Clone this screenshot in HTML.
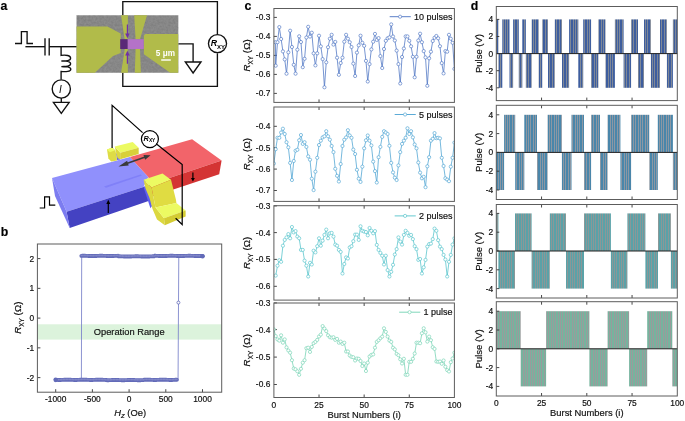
<!DOCTYPE html>
<html><head><meta charset="utf-8"><title>figure</title><style>
html,body{margin:0;padding:0;background:#fff;width:685px;height:421px;overflow:hidden}
svg{display:block;will-change:transform}
text{font-family:"Liberation Sans", sans-serif}
.k{stroke:#111;stroke-width:0.18px}
</style></head><body>
<svg width="685" height="421" viewBox="0 0 685 421">
<defs>
<pattern id="st0" patternUnits="userSpaceOnUse" x="0" y="0" width="7" height="10"><rect x="0" width="1" height="10" fill="#3e5e9e"/><rect x="1" width="1" height="10" fill="#7f8898"/><rect x="2" width="1" height="10" fill="#3e5e9e"/><rect x="3" width="1" height="10" fill="#7f8898"/><rect x="4" width="2" height="10" fill="#3e5e9e"/><rect x="6" width="1" height="10" fill="#7f8898"/></pattern>
<pattern id="st1" patternUnits="userSpaceOnUse" x="2" y="0" width="7" height="10"><rect x="0" width="1" height="10" fill="#4a86aa"/><rect x="1" width="1" height="10" fill="#8c98a4"/><rect x="2" width="1" height="10" fill="#4a86aa"/><rect x="3" width="1" height="10" fill="#8c98a4"/><rect x="4" width="2" height="10" fill="#4a86aa"/><rect x="6" width="1" height="10" fill="#8c98a4"/></pattern>
<pattern id="st2" patternUnits="userSpaceOnUse" x="4" y="0" width="7" height="10"><rect x="0" width="1" height="10" fill="#5aa2a8"/><rect x="1" width="1" height="10" fill="#8a9898"/><rect x="2" width="1" height="10" fill="#5aa2a8"/><rect x="3" width="1" height="10" fill="#8a9898"/><rect x="4" width="2" height="10" fill="#5aa2a8"/><rect x="6" width="1" height="10" fill="#8a9898"/></pattern>
<pattern id="st3" patternUnits="userSpaceOnUse" x="6" y="0" width="7" height="10"><rect x="0" width="1" height="10" fill="#76b49e"/><rect x="1" width="1" height="10" fill="#989c9c"/><rect x="2" width="1" height="10" fill="#76b49e"/><rect x="3" width="1" height="10" fill="#989c9c"/><rect x="4" width="2" height="10" fill="#76b49e"/><rect x="6" width="1" height="10" fill="#989c9c"/></pattern>
<filter id="noise" x="0" y="0" width="1" height="1" color-interpolation-filters="sRGB"><feTurbulence type="fractalNoise" baseFrequency="0.45" numOctaves="2" seed="7"/><feColorMatrix type="matrix" values="0.5 0 0 0 0.28  0.5 0 0 0 0.28  0.5 0 0 0 0.28  0 0 0 0 1"/></filter>
<clipPath id="cc0"><rect x="273.9" y="8.5" width="180.5" height="93.9"/></clipPath>
<clipPath id="cc1"><rect x="273.9" y="107" width="180.5" height="94.4"/></clipPath>
<clipPath id="cc2"><rect x="273.9" y="205.7" width="180.5" height="94.4"/></clipPath>
<clipPath id="cc3"><rect x="273.9" y="303" width="180.5" height="94.5"/></clipPath>
</defs>
<text x="0.6" y="9.8" font-size="12.3" fill="#000" font-weight="bold" class="k">a</text>
<text x="0.8" y="236.1" font-size="12.3" fill="#000" font-weight="bold" class="k">b</text>
<text x="244.4" y="9.9" font-size="12.3" fill="#000" font-weight="bold" class="k">c</text>
<text x="470.8" y="9.7" font-size="12.3" fill="#000" font-weight="bold" class="k">d</text>
<line x1="273.9" y1="17.4" x2="276.9" y2="17.4" stroke="#333333" stroke-width="0.9"/>
<text x="270.3" y="20.35" font-size="8.4" fill="#111111" text-anchor="end" class="k">-0.3</text>
<line x1="273.9" y1="36.4" x2="276.9" y2="36.4" stroke="#333333" stroke-width="0.9"/>
<text x="270.3" y="39.35" font-size="8.4" fill="#111111" text-anchor="end" class="k">-0.4</text>
<line x1="273.9" y1="55.4" x2="276.9" y2="55.4" stroke="#333333" stroke-width="0.9"/>
<text x="270.3" y="58.35" font-size="8.4" fill="#111111" text-anchor="end" class="k">-0.5</text>
<line x1="273.9" y1="74.4" x2="276.9" y2="74.4" stroke="#333333" stroke-width="0.9"/>
<text x="270.3" y="77.35" font-size="8.4" fill="#111111" text-anchor="end" class="k">-0.6</text>
<line x1="273.9" y1="93.4" x2="276.9" y2="93.4" stroke="#333333" stroke-width="0.9"/>
<text x="270.3" y="96.35" font-size="8.4" fill="#111111" text-anchor="end" class="k">-0.7</text>
<line x1="319.02" y1="102.4" x2="319.02" y2="99.4" stroke="#333333" stroke-width="0.9"/>
<line x1="364.15" y1="102.4" x2="364.15" y2="99.4" stroke="#333333" stroke-width="0.9"/>
<line x1="409.27" y1="102.4" x2="409.27" y2="99.4" stroke="#333333" stroke-width="0.9"/>
<g clip-path="url(#cc0)">
<polyline fill="none" stroke="#4a72c2" stroke-width="0.75" stroke-linejoin="round" points="275.4,42.2 275.7,65.7 277.51,42.2 279.31,27.1 281.12,39 282.92,51.4 284.73,59.4 286.53,73.7 288.34,52.3 290.14,30.7 291.95,47 293.75,64.8 295.56,73.7 297.36,49.7 299.17,36.3 300.97,42 302.78,67.2 304.58,58.8 306.39,37.5 308.19,26.8 310,36.6 311.8,32.7 313.61,53.3 315.41,65.4 317.22,53.3 319.02,35.7 320.83,46.4 322.63,59.1 324.44,87.3 326.25,62.3 328.05,47.2 329.85,38.7 331.66,34.8 333.46,44.6 335.27,41.9 337.07,57.7 338.88,74.8 340.68,63 342.49,57.7 344.29,41.7 346.1,34.8 347.9,38.7 349.71,42.2 351.51,47 353.32,63.6 355.12,76 356.93,52.6 358.73,45.3 360.54,35.7 362.34,42.8 364.15,45.8 365.95,60.9 367.76,81.5 369.56,64.1 371.37,49.4 373.17,41.7 374.98,33.9 376.78,39.9 378.59,38.1 380.39,56.1 382.2,68 384,49 385.81,40.8 387.62,38.3 389.42,37.4 391.22,24.4 393.03,36.5 394.83,40.5 396.64,50.6 398.44,64.1 400.25,83.5 402.05,57 403.86,48.5 405.66,36.4 407.47,36.4 409.27,40.8 411.08,46.3 412.88,56.8 414.69,77.3 416.5,56.8 418.3,40.5 420.11,33.7 421.91,42.2 423.71,51.1 425.52,57.4 427.32,85.8 429.13,58.3 430.93,51.7 432.74,41 434.54,37.8 436.35,36 438.15,38.3 439.96,46.2 441.76,63.1 443.57,73.4 445.38,51.1 447.18,51.7 448.99,34.8 450.79,38.7 452.59,42.8 454.4,68.9"/>
<g fill="#fff" stroke="#4a72c2" stroke-width="0.65">
<circle cx="275.4" cy="42.2" r="1.6"/>
<circle cx="275.7" cy="65.7" r="1.6"/>
<circle cx="277.51" cy="42.2" r="1.6"/>
<circle cx="279.31" cy="27.1" r="1.6"/>
<circle cx="281.12" cy="39" r="1.6"/>
<circle cx="282.92" cy="51.4" r="1.6"/>
<circle cx="284.73" cy="59.4" r="1.6"/>
<circle cx="286.53" cy="73.7" r="1.6"/>
<circle cx="288.34" cy="52.3" r="1.6"/>
<circle cx="290.14" cy="30.7" r="1.6"/>
<circle cx="291.95" cy="47" r="1.6"/>
<circle cx="293.75" cy="64.8" r="1.6"/>
<circle cx="295.56" cy="73.7" r="1.6"/>
<circle cx="297.36" cy="49.7" r="1.6"/>
<circle cx="299.17" cy="36.3" r="1.6"/>
<circle cx="300.97" cy="42" r="1.6"/>
<circle cx="302.78" cy="67.2" r="1.6"/>
<circle cx="304.58" cy="58.8" r="1.6"/>
<circle cx="306.39" cy="37.5" r="1.6"/>
<circle cx="308.19" cy="26.8" r="1.6"/>
<circle cx="310" cy="36.6" r="1.6"/>
<circle cx="311.8" cy="32.7" r="1.6"/>
<circle cx="313.61" cy="53.3" r="1.6"/>
<circle cx="315.41" cy="65.4" r="1.6"/>
<circle cx="317.22" cy="53.3" r="1.6"/>
<circle cx="319.02" cy="35.7" r="1.6"/>
<circle cx="320.83" cy="46.4" r="1.6"/>
<circle cx="322.63" cy="59.1" r="1.6"/>
<circle cx="324.44" cy="87.3" r="1.6"/>
<circle cx="326.25" cy="62.3" r="1.6"/>
<circle cx="328.05" cy="47.2" r="1.6"/>
<circle cx="329.85" cy="38.7" r="1.6"/>
<circle cx="331.66" cy="34.8" r="1.6"/>
<circle cx="333.46" cy="44.6" r="1.6"/>
<circle cx="335.27" cy="41.9" r="1.6"/>
<circle cx="337.07" cy="57.7" r="1.6"/>
<circle cx="338.88" cy="74.8" r="1.6"/>
<circle cx="340.68" cy="63" r="1.6"/>
<circle cx="342.49" cy="57.7" r="1.6"/>
<circle cx="344.29" cy="41.7" r="1.6"/>
<circle cx="346.1" cy="34.8" r="1.6"/>
<circle cx="347.9" cy="38.7" r="1.6"/>
<circle cx="349.71" cy="42.2" r="1.6"/>
<circle cx="351.51" cy="47" r="1.6"/>
<circle cx="353.32" cy="63.6" r="1.6"/>
<circle cx="355.12" cy="76" r="1.6"/>
<circle cx="356.93" cy="52.6" r="1.6"/>
<circle cx="358.73" cy="45.3" r="1.6"/>
<circle cx="360.54" cy="35.7" r="1.6"/>
<circle cx="362.34" cy="42.8" r="1.6"/>
<circle cx="364.15" cy="45.8" r="1.6"/>
<circle cx="365.95" cy="60.9" r="1.6"/>
<circle cx="367.76" cy="81.5" r="1.6"/>
<circle cx="369.56" cy="64.1" r="1.6"/>
<circle cx="371.37" cy="49.4" r="1.6"/>
<circle cx="373.17" cy="41.7" r="1.6"/>
<circle cx="374.98" cy="33.9" r="1.6"/>
<circle cx="376.78" cy="39.9" r="1.6"/>
<circle cx="378.59" cy="38.1" r="1.6"/>
<circle cx="380.39" cy="56.1" r="1.6"/>
<circle cx="382.2" cy="68" r="1.6"/>
<circle cx="384" cy="49" r="1.6"/>
<circle cx="385.81" cy="40.8" r="1.6"/>
<circle cx="387.62" cy="38.3" r="1.6"/>
<circle cx="389.42" cy="37.4" r="1.6"/>
<circle cx="391.22" cy="24.4" r="1.6"/>
<circle cx="393.03" cy="36.5" r="1.6"/>
<circle cx="394.83" cy="40.5" r="1.6"/>
<circle cx="396.64" cy="50.6" r="1.6"/>
<circle cx="398.44" cy="64.1" r="1.6"/>
<circle cx="400.25" cy="83.5" r="1.6"/>
<circle cx="402.05" cy="57" r="1.6"/>
<circle cx="403.86" cy="48.5" r="1.6"/>
<circle cx="405.66" cy="36.4" r="1.6"/>
<circle cx="407.47" cy="36.4" r="1.6"/>
<circle cx="409.27" cy="40.8" r="1.6"/>
<circle cx="411.08" cy="46.3" r="1.6"/>
<circle cx="412.88" cy="56.8" r="1.6"/>
<circle cx="414.69" cy="77.3" r="1.6"/>
<circle cx="416.5" cy="56.8" r="1.6"/>
<circle cx="418.3" cy="40.5" r="1.6"/>
<circle cx="420.11" cy="33.7" r="1.6"/>
<circle cx="421.91" cy="42.2" r="1.6"/>
<circle cx="423.71" cy="51.1" r="1.6"/>
<circle cx="425.52" cy="57.4" r="1.6"/>
<circle cx="427.32" cy="85.8" r="1.6"/>
<circle cx="429.13" cy="58.3" r="1.6"/>
<circle cx="430.93" cy="51.7" r="1.6"/>
<circle cx="432.74" cy="41" r="1.6"/>
<circle cx="434.54" cy="37.8" r="1.6"/>
<circle cx="436.35" cy="36" r="1.6"/>
<circle cx="438.15" cy="38.3" r="1.6"/>
<circle cx="439.96" cy="46.2" r="1.6"/>
<circle cx="441.76" cy="63.1" r="1.6"/>
<circle cx="443.57" cy="73.4" r="1.6"/>
<circle cx="445.38" cy="51.1" r="1.6"/>
<circle cx="447.18" cy="51.7" r="1.6"/>
<circle cx="448.99" cy="34.8" r="1.6"/>
<circle cx="450.79" cy="38.7" r="1.6"/>
<circle cx="452.59" cy="42.8" r="1.6"/>
<circle cx="454.4" cy="68.9" r="1.6"/>
</g></g>
<line x1="389.68" y1="16.7" x2="410.78" y2="16.7" stroke="#4a72c2" stroke-width="0.9"/>
<circle cx="400.08" cy="16.7" r="1.6" fill="#fff" stroke="#4a72c2" stroke-width="0.65"/>
<text x="452.5" y="19.9" font-size="9" fill="#111111" text-anchor="end" class="k">10 pulses</text>
<rect x="273.9" y="8.5" width="180.5" height="93.9" fill="none" stroke="#5c5c5c" stroke-width="1.0"/>
<text transform="translate(250.2 55.45) rotate(-90)" font-size="9.8" fill="#111111" class="k" text-anchor="middle"><tspan font-style="italic">R</tspan><tspan font-size="6.5" dy="2.5">XY</tspan><tspan dy="-2.5"> (Ω)</tspan></text>
<line x1="273.9" y1="126.3" x2="276.9" y2="126.3" stroke="#333333" stroke-width="0.9"/>
<text x="270.3" y="129.25" font-size="8.4" fill="#111111" text-anchor="end" class="k">-0.4</text>
<line x1="273.9" y1="147.7" x2="276.9" y2="147.7" stroke="#333333" stroke-width="0.9"/>
<text x="270.3" y="150.65" font-size="8.4" fill="#111111" text-anchor="end" class="k">-0.5</text>
<line x1="273.9" y1="169.1" x2="276.9" y2="169.1" stroke="#333333" stroke-width="0.9"/>
<text x="270.3" y="172.05" font-size="8.4" fill="#111111" text-anchor="end" class="k">-0.6</text>
<line x1="273.9" y1="190.5" x2="276.9" y2="190.5" stroke="#333333" stroke-width="0.9"/>
<text x="270.3" y="193.45" font-size="8.4" fill="#111111" text-anchor="end" class="k">-0.7</text>
<line x1="319.02" y1="201.4" x2="319.02" y2="198.4" stroke="#333333" stroke-width="0.9"/>
<line x1="319.02" y1="107" x2="319.02" y2="110" stroke="#333333" stroke-width="0.9"/>
<line x1="364.15" y1="201.4" x2="364.15" y2="198.4" stroke="#333333" stroke-width="0.9"/>
<line x1="364.15" y1="107" x2="364.15" y2="110" stroke="#333333" stroke-width="0.9"/>
<line x1="409.27" y1="201.4" x2="409.27" y2="198.4" stroke="#333333" stroke-width="0.9"/>
<line x1="409.27" y1="107" x2="409.27" y2="110" stroke="#333333" stroke-width="0.9"/>
<g clip-path="url(#cc1)">
<polyline fill="none" stroke="#4aa2d2" stroke-width="0.75" stroke-linejoin="round" points="273.9,163.5 275.7,149.2 277.51,137.8 279.31,137.8 281.12,132.5 282.92,128.7 284.73,134 286.53,142.2 288.34,147.3 290.14,162.9 291.95,180 293.75,161 295.56,150.7 297.36,149.8 299.17,140.3 300.97,135 302.78,143.9 304.58,142.2 306.39,146.9 308.19,156.4 310,159.7 311.8,178.7 313.61,190.1 315.41,171.7 317.22,157.8 319.02,145 320.83,140.7 322.63,137.4 324.44,136.3 326.25,131.2 328.05,136.3 329.85,139.7 331.66,146 333.46,152.1 335.27,168.8 337.07,175.8 338.88,181.5 340.68,164 342.49,146 344.29,139.7 346.1,137.4 347.9,130.2 349.71,135.5 351.51,137.8 353.32,149.6 355.12,154 356.93,169.8 358.73,178.7 360.54,181.9 362.34,166.7 364.15,148.3 365.95,140.3 367.76,135.5 369.56,140.7 371.37,145.4 373.17,161.6 374.98,171.1 376.78,182.5 378.59,157.2 380.39,146.9 382.2,136.9 384,131.2 385.81,132.5 387.62,134 389.42,145.8 391.22,162.9 393.03,172.4 394.83,177.7 396.64,180 398.44,165.4 400.25,152.1 402.05,143.9 403.86,140.7 405.66,137.8 407.47,128.3 409.27,134 411.08,131.2 412.88,137.4 414.69,144.5 416.5,148.3 418.3,162.5 420.11,172.6 421.91,178.3 423.71,176.8 425.52,187.2 427.32,166.3 429.13,157.2 430.93,140.7 432.74,138.8 434.54,133.1 436.35,138.2 438.15,137.8 439.96,138.4 441.76,157.8 443.57,166 445.38,178.3 447.18,179.6 448.99,181.2 450.79,166.7 452.59,157.8 454.4,142.6"/>
<g fill="#fff" stroke="#4aa2d2" stroke-width="0.65">
<circle cx="273.9" cy="163.5" r="1.6"/>
<circle cx="275.7" cy="149.2" r="1.6"/>
<circle cx="277.51" cy="137.8" r="1.6"/>
<circle cx="279.31" cy="137.8" r="1.6"/>
<circle cx="281.12" cy="132.5" r="1.6"/>
<circle cx="282.92" cy="128.7" r="1.6"/>
<circle cx="284.73" cy="134" r="1.6"/>
<circle cx="286.53" cy="142.2" r="1.6"/>
<circle cx="288.34" cy="147.3" r="1.6"/>
<circle cx="290.14" cy="162.9" r="1.6"/>
<circle cx="291.95" cy="180" r="1.6"/>
<circle cx="293.75" cy="161" r="1.6"/>
<circle cx="295.56" cy="150.7" r="1.6"/>
<circle cx="297.36" cy="149.8" r="1.6"/>
<circle cx="299.17" cy="140.3" r="1.6"/>
<circle cx="300.97" cy="135" r="1.6"/>
<circle cx="302.78" cy="143.9" r="1.6"/>
<circle cx="304.58" cy="142.2" r="1.6"/>
<circle cx="306.39" cy="146.9" r="1.6"/>
<circle cx="308.19" cy="156.4" r="1.6"/>
<circle cx="310" cy="159.7" r="1.6"/>
<circle cx="311.8" cy="178.7" r="1.6"/>
<circle cx="313.61" cy="190.1" r="1.6"/>
<circle cx="315.41" cy="171.7" r="1.6"/>
<circle cx="317.22" cy="157.8" r="1.6"/>
<circle cx="319.02" cy="145" r="1.6"/>
<circle cx="320.83" cy="140.7" r="1.6"/>
<circle cx="322.63" cy="137.4" r="1.6"/>
<circle cx="324.44" cy="136.3" r="1.6"/>
<circle cx="326.25" cy="131.2" r="1.6"/>
<circle cx="328.05" cy="136.3" r="1.6"/>
<circle cx="329.85" cy="139.7" r="1.6"/>
<circle cx="331.66" cy="146" r="1.6"/>
<circle cx="333.46" cy="152.1" r="1.6"/>
<circle cx="335.27" cy="168.8" r="1.6"/>
<circle cx="337.07" cy="175.8" r="1.6"/>
<circle cx="338.88" cy="181.5" r="1.6"/>
<circle cx="340.68" cy="164" r="1.6"/>
<circle cx="342.49" cy="146" r="1.6"/>
<circle cx="344.29" cy="139.7" r="1.6"/>
<circle cx="346.1" cy="137.4" r="1.6"/>
<circle cx="347.9" cy="130.2" r="1.6"/>
<circle cx="349.71" cy="135.5" r="1.6"/>
<circle cx="351.51" cy="137.8" r="1.6"/>
<circle cx="353.32" cy="149.6" r="1.6"/>
<circle cx="355.12" cy="154" r="1.6"/>
<circle cx="356.93" cy="169.8" r="1.6"/>
<circle cx="358.73" cy="178.7" r="1.6"/>
<circle cx="360.54" cy="181.9" r="1.6"/>
<circle cx="362.34" cy="166.7" r="1.6"/>
<circle cx="364.15" cy="148.3" r="1.6"/>
<circle cx="365.95" cy="140.3" r="1.6"/>
<circle cx="367.76" cy="135.5" r="1.6"/>
<circle cx="369.56" cy="140.7" r="1.6"/>
<circle cx="371.37" cy="145.4" r="1.6"/>
<circle cx="373.17" cy="161.6" r="1.6"/>
<circle cx="374.98" cy="171.1" r="1.6"/>
<circle cx="376.78" cy="182.5" r="1.6"/>
<circle cx="378.59" cy="157.2" r="1.6"/>
<circle cx="380.39" cy="146.9" r="1.6"/>
<circle cx="382.2" cy="136.9" r="1.6"/>
<circle cx="384" cy="131.2" r="1.6"/>
<circle cx="385.81" cy="132.5" r="1.6"/>
<circle cx="387.62" cy="134" r="1.6"/>
<circle cx="389.42" cy="145.8" r="1.6"/>
<circle cx="391.22" cy="162.9" r="1.6"/>
<circle cx="393.03" cy="172.4" r="1.6"/>
<circle cx="394.83" cy="177.7" r="1.6"/>
<circle cx="396.64" cy="180" r="1.6"/>
<circle cx="398.44" cy="165.4" r="1.6"/>
<circle cx="400.25" cy="152.1" r="1.6"/>
<circle cx="402.05" cy="143.9" r="1.6"/>
<circle cx="403.86" cy="140.7" r="1.6"/>
<circle cx="405.66" cy="137.8" r="1.6"/>
<circle cx="407.47" cy="128.3" r="1.6"/>
<circle cx="409.27" cy="134" r="1.6"/>
<circle cx="411.08" cy="131.2" r="1.6"/>
<circle cx="412.88" cy="137.4" r="1.6"/>
<circle cx="414.69" cy="144.5" r="1.6"/>
<circle cx="416.5" cy="148.3" r="1.6"/>
<circle cx="418.3" cy="162.5" r="1.6"/>
<circle cx="420.11" cy="172.6" r="1.6"/>
<circle cx="421.91" cy="178.3" r="1.6"/>
<circle cx="423.71" cy="176.8" r="1.6"/>
<circle cx="425.52" cy="187.2" r="1.6"/>
<circle cx="427.32" cy="166.3" r="1.6"/>
<circle cx="429.13" cy="157.2" r="1.6"/>
<circle cx="430.93" cy="140.7" r="1.6"/>
<circle cx="432.74" cy="138.8" r="1.6"/>
<circle cx="434.54" cy="133.1" r="1.6"/>
<circle cx="436.35" cy="138.2" r="1.6"/>
<circle cx="438.15" cy="137.8" r="1.6"/>
<circle cx="439.96" cy="138.4" r="1.6"/>
<circle cx="441.76" cy="157.8" r="1.6"/>
<circle cx="443.57" cy="166" r="1.6"/>
<circle cx="445.38" cy="178.3" r="1.6"/>
<circle cx="447.18" cy="179.6" r="1.6"/>
<circle cx="448.99" cy="181.2" r="1.6"/>
<circle cx="450.79" cy="166.7" r="1.6"/>
<circle cx="452.59" cy="157.8" r="1.6"/>
<circle cx="454.4" cy="142.6" r="1.6"/>
</g></g>
<line x1="394.68" y1="114.5" x2="415.78" y2="114.5" stroke="#4aa2d2" stroke-width="0.9"/>
<circle cx="405.08" cy="114.5" r="1.6" fill="#fff" stroke="#4aa2d2" stroke-width="0.65"/>
<text x="452.5" y="117.7" font-size="9" fill="#111111" text-anchor="end" class="k">5 pulses</text>
<rect x="273.9" y="107" width="180.5" height="94.4" fill="none" stroke="#5c5c5c" stroke-width="1.0"/>
<text transform="translate(250.2 154.2) rotate(-90)" font-size="9.8" fill="#111111" class="k" text-anchor="middle"><tspan font-style="italic">R</tspan><tspan font-size="6.5" dy="2.5">XY</tspan><tspan dy="-2.5"> (Ω)</tspan></text>
<line x1="273.9" y1="205.9" x2="276.9" y2="205.9" stroke="#333333" stroke-width="0.9"/>
<text x="270.3" y="208.85" font-size="8.4" fill="#111111" text-anchor="end" class="k">-0.3</text>
<line x1="273.9" y1="232.6" x2="276.9" y2="232.6" stroke="#333333" stroke-width="0.9"/>
<text x="270.3" y="235.55" font-size="8.4" fill="#111111" text-anchor="end" class="k">-0.4</text>
<line x1="273.9" y1="259.4" x2="276.9" y2="259.4" stroke="#333333" stroke-width="0.9"/>
<text x="270.3" y="262.35" font-size="8.4" fill="#111111" text-anchor="end" class="k">-0.5</text>
<line x1="273.9" y1="286.3" x2="276.9" y2="286.3" stroke="#333333" stroke-width="0.9"/>
<text x="270.3" y="289.25" font-size="8.4" fill="#111111" text-anchor="end" class="k">-0.6</text>
<line x1="319.02" y1="300.1" x2="319.02" y2="297.1" stroke="#333333" stroke-width="0.9"/>
<line x1="319.02" y1="205.7" x2="319.02" y2="208.7" stroke="#333333" stroke-width="0.9"/>
<line x1="364.15" y1="300.1" x2="364.15" y2="297.1" stroke="#333333" stroke-width="0.9"/>
<line x1="364.15" y1="205.7" x2="364.15" y2="208.7" stroke="#333333" stroke-width="0.9"/>
<line x1="409.27" y1="300.1" x2="409.27" y2="297.1" stroke="#333333" stroke-width="0.9"/>
<line x1="409.27" y1="205.7" x2="409.27" y2="208.7" stroke="#333333" stroke-width="0.9"/>
<g clip-path="url(#cc2)">
<polyline fill="none" stroke="#52c2ca" stroke-width="0.75" stroke-linejoin="round" points="275.7,275.6 277.51,265.7 279.31,260.2 281.12,261.8 282.92,245.7 284.73,239.9 286.53,237.4 288.34,234.1 290.14,238.3 291.95,227 293.75,232.4 295.56,231.1 297.36,236.6 299.17,238.3 300.97,249.9 302.78,249.9 304.58,260.7 306.39,265.7 308.19,276.5 310,262.8 311.8,264.5 313.61,250.7 315.41,252.4 317.22,246.2 319.02,238.3 320.83,245.7 322.63,240.7 324.44,234.9 326.25,229.6 328.05,238.3 329.85,233.3 331.66,232.9 333.46,236.6 335.27,244.6 337.07,245.7 338.88,249.9 340.68,251.9 342.49,273.5 344.29,264 346.1,257.4 347.9,258.5 349.71,247.4 351.51,246.2 353.32,241.2 355.12,234.6 356.93,234.6 358.73,239.9 360.54,226.3 362.34,230.8 364.15,231.6 365.95,232 367.76,235.3 369.56,228 371.37,230.8 373.17,233.3 374.98,231.1 376.78,244.9 378.59,249.9 380.39,252.9 382.2,255.7 384,264.5 385.81,255.7 387.62,270.1 389.42,276.5 391.22,271.8 393.03,264.8 394.83,254.5 396.64,249.1 398.44,237.4 400.25,241.6 402.05,244.6 403.86,234.9 405.66,230.8 407.47,232.9 409.27,235.8 411.08,234.9 412.88,239.1 414.69,246.2 416.5,249.1 418.3,259.9 420.11,259 421.91,273.5 423.71,267.3 425.52,259.9 427.32,246.6 429.13,244.1 430.93,243.6 432.74,239.1 434.54,228.6 436.35,230.8 438.15,240.2 439.96,246.6 441.76,249.1 443.57,254.9 445.38,259.5 447.18,276.5 448.99,261.8 450.79,254.9 452.59,244.6 454.4,238.3"/>
<g fill="#fff" stroke="#52c2ca" stroke-width="0.65">
<circle cx="275.7" cy="275.6" r="1.6"/>
<circle cx="277.51" cy="265.7" r="1.6"/>
<circle cx="279.31" cy="260.2" r="1.6"/>
<circle cx="281.12" cy="261.8" r="1.6"/>
<circle cx="282.92" cy="245.7" r="1.6"/>
<circle cx="284.73" cy="239.9" r="1.6"/>
<circle cx="286.53" cy="237.4" r="1.6"/>
<circle cx="288.34" cy="234.1" r="1.6"/>
<circle cx="290.14" cy="238.3" r="1.6"/>
<circle cx="291.95" cy="227" r="1.6"/>
<circle cx="293.75" cy="232.4" r="1.6"/>
<circle cx="295.56" cy="231.1" r="1.6"/>
<circle cx="297.36" cy="236.6" r="1.6"/>
<circle cx="299.17" cy="238.3" r="1.6"/>
<circle cx="300.97" cy="249.9" r="1.6"/>
<circle cx="302.78" cy="249.9" r="1.6"/>
<circle cx="304.58" cy="260.7" r="1.6"/>
<circle cx="306.39" cy="265.7" r="1.6"/>
<circle cx="308.19" cy="276.5" r="1.6"/>
<circle cx="310" cy="262.8" r="1.6"/>
<circle cx="311.8" cy="264.5" r="1.6"/>
<circle cx="313.61" cy="250.7" r="1.6"/>
<circle cx="315.41" cy="252.4" r="1.6"/>
<circle cx="317.22" cy="246.2" r="1.6"/>
<circle cx="319.02" cy="238.3" r="1.6"/>
<circle cx="320.83" cy="245.7" r="1.6"/>
<circle cx="322.63" cy="240.7" r="1.6"/>
<circle cx="324.44" cy="234.9" r="1.6"/>
<circle cx="326.25" cy="229.6" r="1.6"/>
<circle cx="328.05" cy="238.3" r="1.6"/>
<circle cx="329.85" cy="233.3" r="1.6"/>
<circle cx="331.66" cy="232.9" r="1.6"/>
<circle cx="333.46" cy="236.6" r="1.6"/>
<circle cx="335.27" cy="244.6" r="1.6"/>
<circle cx="337.07" cy="245.7" r="1.6"/>
<circle cx="338.88" cy="249.9" r="1.6"/>
<circle cx="340.68" cy="251.9" r="1.6"/>
<circle cx="342.49" cy="273.5" r="1.6"/>
<circle cx="344.29" cy="264" r="1.6"/>
<circle cx="346.1" cy="257.4" r="1.6"/>
<circle cx="347.9" cy="258.5" r="1.6"/>
<circle cx="349.71" cy="247.4" r="1.6"/>
<circle cx="351.51" cy="246.2" r="1.6"/>
<circle cx="353.32" cy="241.2" r="1.6"/>
<circle cx="355.12" cy="234.6" r="1.6"/>
<circle cx="356.93" cy="234.6" r="1.6"/>
<circle cx="358.73" cy="239.9" r="1.6"/>
<circle cx="360.54" cy="226.3" r="1.6"/>
<circle cx="362.34" cy="230.8" r="1.6"/>
<circle cx="364.15" cy="231.6" r="1.6"/>
<circle cx="365.95" cy="232" r="1.6"/>
<circle cx="367.76" cy="235.3" r="1.6"/>
<circle cx="369.56" cy="228" r="1.6"/>
<circle cx="371.37" cy="230.8" r="1.6"/>
<circle cx="373.17" cy="233.3" r="1.6"/>
<circle cx="374.98" cy="231.1" r="1.6"/>
<circle cx="376.78" cy="244.9" r="1.6"/>
<circle cx="378.59" cy="249.9" r="1.6"/>
<circle cx="380.39" cy="252.9" r="1.6"/>
<circle cx="382.2" cy="255.7" r="1.6"/>
<circle cx="384" cy="264.5" r="1.6"/>
<circle cx="385.81" cy="255.7" r="1.6"/>
<circle cx="387.62" cy="270.1" r="1.6"/>
<circle cx="389.42" cy="276.5" r="1.6"/>
<circle cx="391.22" cy="271.8" r="1.6"/>
<circle cx="393.03" cy="264.8" r="1.6"/>
<circle cx="394.83" cy="254.5" r="1.6"/>
<circle cx="396.64" cy="249.1" r="1.6"/>
<circle cx="398.44" cy="237.4" r="1.6"/>
<circle cx="400.25" cy="241.6" r="1.6"/>
<circle cx="402.05" cy="244.6" r="1.6"/>
<circle cx="403.86" cy="234.9" r="1.6"/>
<circle cx="405.66" cy="230.8" r="1.6"/>
<circle cx="407.47" cy="232.9" r="1.6"/>
<circle cx="409.27" cy="235.8" r="1.6"/>
<circle cx="411.08" cy="234.9" r="1.6"/>
<circle cx="412.88" cy="239.1" r="1.6"/>
<circle cx="414.69" cy="246.2" r="1.6"/>
<circle cx="416.5" cy="249.1" r="1.6"/>
<circle cx="418.3" cy="259.9" r="1.6"/>
<circle cx="420.11" cy="259" r="1.6"/>
<circle cx="421.91" cy="273.5" r="1.6"/>
<circle cx="423.71" cy="267.3" r="1.6"/>
<circle cx="425.52" cy="259.9" r="1.6"/>
<circle cx="427.32" cy="246.6" r="1.6"/>
<circle cx="429.13" cy="244.1" r="1.6"/>
<circle cx="430.93" cy="243.6" r="1.6"/>
<circle cx="432.74" cy="239.1" r="1.6"/>
<circle cx="434.54" cy="228.6" r="1.6"/>
<circle cx="436.35" cy="230.8" r="1.6"/>
<circle cx="438.15" cy="240.2" r="1.6"/>
<circle cx="439.96" cy="246.6" r="1.6"/>
<circle cx="441.76" cy="249.1" r="1.6"/>
<circle cx="443.57" cy="254.9" r="1.6"/>
<circle cx="445.38" cy="259.5" r="1.6"/>
<circle cx="447.18" cy="276.5" r="1.6"/>
<circle cx="448.99" cy="261.8" r="1.6"/>
<circle cx="450.79" cy="254.9" r="1.6"/>
<circle cx="452.59" cy="244.6" r="1.6"/>
<circle cx="454.4" cy="238.3" r="1.6"/>
</g></g>
<line x1="394.68" y1="215.9" x2="415.78" y2="215.9" stroke="#52c2ca" stroke-width="0.9"/>
<circle cx="405.08" cy="215.9" r="1.6" fill="#fff" stroke="#52c2ca" stroke-width="0.65"/>
<text x="452.5" y="219.1" font-size="9" fill="#111111" text-anchor="end" class="k">2 pulses</text>
<rect x="273.9" y="205.7" width="180.5" height="94.4" fill="none" stroke="#5c5c5c" stroke-width="1.0"/>
<text transform="translate(250.2 252.9) rotate(-90)" font-size="9.8" fill="#111111" class="k" text-anchor="middle"><tspan font-style="italic">R</tspan><tspan font-size="6.5" dy="2.5">XY</tspan><tspan dy="-2.5"> (Ω)</tspan></text>
<line x1="273.9" y1="302.9" x2="276.9" y2="302.9" stroke="#333333" stroke-width="0.9"/>
<text x="270.3" y="305.85" font-size="8.4" fill="#111111" text-anchor="end" class="k">-0.3</text>
<line x1="273.9" y1="329.6" x2="276.9" y2="329.6" stroke="#333333" stroke-width="0.9"/>
<text x="270.3" y="332.55" font-size="8.4" fill="#111111" text-anchor="end" class="k">-0.4</text>
<line x1="273.9" y1="357.1" x2="276.9" y2="357.1" stroke="#333333" stroke-width="0.9"/>
<text x="270.3" y="360.05" font-size="8.4" fill="#111111" text-anchor="end" class="k">-0.5</text>
<line x1="273.9" y1="384.5" x2="276.9" y2="384.5" stroke="#333333" stroke-width="0.9"/>
<text x="270.3" y="387.45" font-size="8.4" fill="#111111" text-anchor="end" class="k">-0.6</text>
<line x1="319.02" y1="397.5" x2="319.02" y2="394.5" stroke="#333333" stroke-width="0.9"/>
<line x1="319.02" y1="303" x2="319.02" y2="306" stroke="#333333" stroke-width="0.9"/>
<line x1="364.15" y1="397.5" x2="364.15" y2="394.5" stroke="#333333" stroke-width="0.9"/>
<line x1="364.15" y1="303" x2="364.15" y2="306" stroke="#333333" stroke-width="0.9"/>
<line x1="409.27" y1="397.5" x2="409.27" y2="394.5" stroke="#333333" stroke-width="0.9"/>
<line x1="409.27" y1="303" x2="409.27" y2="306" stroke="#333333" stroke-width="0.9"/>
<g clip-path="url(#cc3)">
<polyline fill="none" stroke="#72d2b2" stroke-width="0.75" stroke-linejoin="round" points="273.9,329.4 275.7,336.1 277.51,339.4 279.31,340.6 281.12,335.3 282.92,342.7 284.73,339.4 286.53,347.4 288.34,350.5 290.14,352.7 291.95,360.2 293.75,368.5 295.56,369.3 297.36,371.3 299.17,374.8 300.97,368.8 302.78,362.7 304.58,360.2 306.39,348.2 308.19,347.7 310,351.9 311.8,346.9 313.61,343.2 315.41,341.9 317.22,339.9 319.02,336.5 320.83,334.6 322.63,326.1 324.44,328.6 326.25,331.1 328.05,335.3 329.85,337.2 331.66,337.7 333.46,337.2 335.27,339.9 337.07,338.9 338.88,342.7 340.68,341.6 342.49,343.9 344.29,342.7 346.1,351.5 347.9,351.5 349.71,355.5 351.51,356.9 353.32,357.2 355.12,360.5 356.93,358.5 358.73,358.8 360.54,361 362.34,366 364.15,363.5 365.95,371 367.76,362.7 369.56,356.5 371.37,354.9 373.17,354.4 374.98,347.7 376.78,341.9 378.59,340.2 380.39,338.2 382.2,336.6 384,328.3 385.81,331.9 387.62,336.6 389.42,340.6 391.22,341.9 393.03,347.7 394.83,349.4 396.64,353.9 398.44,355.2 400.25,359.3 402.05,363.5 403.86,358.8 405.66,374.8 407.47,374.8 409.27,361.8 411.08,361.8 412.88,358.8 414.69,353.5 416.5,342.7 418.3,342.7 420.11,343.2 421.91,333.3 423.71,328.3 425.52,332.3 427.32,341.6 429.13,336.6 430.93,340.2 432.74,347.2 434.54,348.9 436.35,361.5 438.15,361.8 439.96,361.5 441.76,363.8 443.57,360.5 445.38,366.8 447.18,370.1 448.99,371.5 450.79,362.2 452.59,358.5 454.4,352.7"/>
<g fill="#fff" stroke="#72d2b2" stroke-width="0.65">
<circle cx="273.9" cy="329.4" r="1.6"/>
<circle cx="275.7" cy="336.1" r="1.6"/>
<circle cx="277.51" cy="339.4" r="1.6"/>
<circle cx="279.31" cy="340.6" r="1.6"/>
<circle cx="281.12" cy="335.3" r="1.6"/>
<circle cx="282.92" cy="342.7" r="1.6"/>
<circle cx="284.73" cy="339.4" r="1.6"/>
<circle cx="286.53" cy="347.4" r="1.6"/>
<circle cx="288.34" cy="350.5" r="1.6"/>
<circle cx="290.14" cy="352.7" r="1.6"/>
<circle cx="291.95" cy="360.2" r="1.6"/>
<circle cx="293.75" cy="368.5" r="1.6"/>
<circle cx="295.56" cy="369.3" r="1.6"/>
<circle cx="297.36" cy="371.3" r="1.6"/>
<circle cx="299.17" cy="374.8" r="1.6"/>
<circle cx="300.97" cy="368.8" r="1.6"/>
<circle cx="302.78" cy="362.7" r="1.6"/>
<circle cx="304.58" cy="360.2" r="1.6"/>
<circle cx="306.39" cy="348.2" r="1.6"/>
<circle cx="308.19" cy="347.7" r="1.6"/>
<circle cx="310" cy="351.9" r="1.6"/>
<circle cx="311.8" cy="346.9" r="1.6"/>
<circle cx="313.61" cy="343.2" r="1.6"/>
<circle cx="315.41" cy="341.9" r="1.6"/>
<circle cx="317.22" cy="339.9" r="1.6"/>
<circle cx="319.02" cy="336.5" r="1.6"/>
<circle cx="320.83" cy="334.6" r="1.6"/>
<circle cx="322.63" cy="326.1" r="1.6"/>
<circle cx="324.44" cy="328.6" r="1.6"/>
<circle cx="326.25" cy="331.1" r="1.6"/>
<circle cx="328.05" cy="335.3" r="1.6"/>
<circle cx="329.85" cy="337.2" r="1.6"/>
<circle cx="331.66" cy="337.7" r="1.6"/>
<circle cx="333.46" cy="337.2" r="1.6"/>
<circle cx="335.27" cy="339.9" r="1.6"/>
<circle cx="337.07" cy="338.9" r="1.6"/>
<circle cx="338.88" cy="342.7" r="1.6"/>
<circle cx="340.68" cy="341.6" r="1.6"/>
<circle cx="342.49" cy="343.9" r="1.6"/>
<circle cx="344.29" cy="342.7" r="1.6"/>
<circle cx="346.1" cy="351.5" r="1.6"/>
<circle cx="347.9" cy="351.5" r="1.6"/>
<circle cx="349.71" cy="355.5" r="1.6"/>
<circle cx="351.51" cy="356.9" r="1.6"/>
<circle cx="353.32" cy="357.2" r="1.6"/>
<circle cx="355.12" cy="360.5" r="1.6"/>
<circle cx="356.93" cy="358.5" r="1.6"/>
<circle cx="358.73" cy="358.8" r="1.6"/>
<circle cx="360.54" cy="361" r="1.6"/>
<circle cx="362.34" cy="366" r="1.6"/>
<circle cx="364.15" cy="363.5" r="1.6"/>
<circle cx="365.95" cy="371" r="1.6"/>
<circle cx="367.76" cy="362.7" r="1.6"/>
<circle cx="369.56" cy="356.5" r="1.6"/>
<circle cx="371.37" cy="354.9" r="1.6"/>
<circle cx="373.17" cy="354.4" r="1.6"/>
<circle cx="374.98" cy="347.7" r="1.6"/>
<circle cx="376.78" cy="341.9" r="1.6"/>
<circle cx="378.59" cy="340.2" r="1.6"/>
<circle cx="380.39" cy="338.2" r="1.6"/>
<circle cx="382.2" cy="336.6" r="1.6"/>
<circle cx="384" cy="328.3" r="1.6"/>
<circle cx="385.81" cy="331.9" r="1.6"/>
<circle cx="387.62" cy="336.6" r="1.6"/>
<circle cx="389.42" cy="340.6" r="1.6"/>
<circle cx="391.22" cy="341.9" r="1.6"/>
<circle cx="393.03" cy="347.7" r="1.6"/>
<circle cx="394.83" cy="349.4" r="1.6"/>
<circle cx="396.64" cy="353.9" r="1.6"/>
<circle cx="398.44" cy="355.2" r="1.6"/>
<circle cx="400.25" cy="359.3" r="1.6"/>
<circle cx="402.05" cy="363.5" r="1.6"/>
<circle cx="403.86" cy="358.8" r="1.6"/>
<circle cx="405.66" cy="374.8" r="1.6"/>
<circle cx="407.47" cy="374.8" r="1.6"/>
<circle cx="409.27" cy="361.8" r="1.6"/>
<circle cx="411.08" cy="361.8" r="1.6"/>
<circle cx="412.88" cy="358.8" r="1.6"/>
<circle cx="414.69" cy="353.5" r="1.6"/>
<circle cx="416.5" cy="342.7" r="1.6"/>
<circle cx="418.3" cy="342.7" r="1.6"/>
<circle cx="420.11" cy="343.2" r="1.6"/>
<circle cx="421.91" cy="333.3" r="1.6"/>
<circle cx="423.71" cy="328.3" r="1.6"/>
<circle cx="425.52" cy="332.3" r="1.6"/>
<circle cx="427.32" cy="341.6" r="1.6"/>
<circle cx="429.13" cy="336.6" r="1.6"/>
<circle cx="430.93" cy="340.2" r="1.6"/>
<circle cx="432.74" cy="347.2" r="1.6"/>
<circle cx="434.54" cy="348.9" r="1.6"/>
<circle cx="436.35" cy="361.5" r="1.6"/>
<circle cx="438.15" cy="361.8" r="1.6"/>
<circle cx="439.96" cy="361.5" r="1.6"/>
<circle cx="441.76" cy="363.8" r="1.6"/>
<circle cx="443.57" cy="360.5" r="1.6"/>
<circle cx="445.38" cy="366.8" r="1.6"/>
<circle cx="447.18" cy="370.1" r="1.6"/>
<circle cx="448.99" cy="371.5" r="1.6"/>
<circle cx="450.79" cy="362.2" r="1.6"/>
<circle cx="452.59" cy="358.5" r="1.6"/>
<circle cx="454.4" cy="352.7" r="1.6"/>
</g></g>
<line x1="399.18" y1="312.2" x2="420.28" y2="312.2" stroke="#72d2b2" stroke-width="0.9"/>
<circle cx="409.58" cy="312.2" r="1.6" fill="#fff" stroke="#72d2b2" stroke-width="0.65"/>
<text x="452.5" y="315.4" font-size="9" fill="#111111" text-anchor="end" class="k">1 pulse</text>
<rect x="273.9" y="303" width="180.5" height="94.5" fill="none" stroke="#5c5c5c" stroke-width="1.0"/>
<text transform="translate(250.2 350.25) rotate(-90)" font-size="9.8" fill="#111111" class="k" text-anchor="middle"><tspan font-style="italic">R</tspan><tspan font-size="6.5" dy="2.5">XY</tspan><tspan dy="-2.5"> (Ω)</tspan></text>
<text x="273.9" y="407.6" font-size="8.4" fill="#111111" text-anchor="middle" class="k">0</text>
<text x="319.02" y="407.6" font-size="8.4" fill="#111111" text-anchor="middle" class="k">25</text>
<text x="364.15" y="407.6" font-size="8.4" fill="#111111" text-anchor="middle" class="k">50</text>
<text x="409.27" y="407.6" font-size="8.4" fill="#111111" text-anchor="middle" class="k">75</text>
<text x="454.4" y="407.6" font-size="8.4" fill="#111111" text-anchor="middle" class="k">100</text>
<text x="364.15" y="417.9" font-size="9.4" fill="#111111" text-anchor="middle" class="k">Burst Numbers (i)</text>
<rect x="496.3" y="19.4" width="2.1" height="34.2" fill="url(#st0)"/>
<rect x="498.4" y="53.6" width="3.9" height="34.2" fill="url(#st0)"/>
<rect x="502.3" y="19.4" width="7.2" height="34.2" fill="url(#st0)"/>
<rect x="509.5" y="53.6" width="3.6" height="34.2" fill="url(#st0)"/>
<rect x="513.1" y="19.4" width="5.7" height="34.2" fill="url(#st0)"/>
<rect x="518.8" y="53.6" width="3.5" height="34.2" fill="url(#st0)"/>
<rect x="522.3" y="19.4" width="3.55" height="34.2" fill="url(#st0)"/>
<rect x="525.85" y="53.6" width="5.85" height="34.2" fill="url(#st0)"/>
<rect x="531.7" y="19.4" width="7" height="34.2" fill="url(#st0)"/>
<rect x="538.7" y="53.6" width="3.6" height="34.2" fill="url(#st0)"/>
<rect x="542.3" y="19.4" width="5.7" height="34.2" fill="url(#st0)"/>
<rect x="548" y="53.6" width="6.8" height="34.2" fill="url(#st0)"/>
<rect x="554.8" y="19.4" width="7.2" height="34.2" fill="url(#st0)"/>
<rect x="562" y="53.6" width="7.1" height="34.2" fill="url(#st0)"/>
<rect x="569.1" y="19.4" width="9.2" height="34.2" fill="url(#st0)"/>
<rect x="578.3" y="53.6" width="4.9" height="34.2" fill="url(#st0)"/>
<rect x="583.2" y="19.4" width="7.9" height="34.2" fill="url(#st0)"/>
<rect x="591.1" y="53.6" width="7.3" height="34.2" fill="url(#st0)"/>
<rect x="598.4" y="19.4" width="7.1" height="34.2" fill="url(#st0)"/>
<rect x="605.5" y="53.6" width="9.4" height="34.2" fill="url(#st0)"/>
<rect x="614.9" y="19.4" width="8.7" height="34.2" fill="url(#st0)"/>
<rect x="623.6" y="53.6" width="7.5" height="34.2" fill="url(#st0)"/>
<rect x="631.1" y="19.4" width="6.9" height="34.2" fill="url(#st0)"/>
<rect x="638" y="53.6" width="6" height="34.2" fill="url(#st0)"/>
<rect x="644" y="19.4" width="6.9" height="34.2" fill="url(#st0)"/>
<rect x="650.9" y="53.6" width="9.1" height="34.2" fill="url(#st0)"/>
<rect x="660" y="19.4" width="6.9" height="34.2" fill="url(#st0)"/>
<rect x="666.9" y="53.6" width="6" height="34.2" fill="url(#st0)"/>
<rect x="672.9" y="19.4" width="4.1" height="34.2" fill="url(#st0)"/>
<line x1="496.3" y1="53.6" x2="677.3" y2="53.6" stroke="#222" stroke-width="1"/>
<line x1="496.3" y1="19.4" x2="499.3" y2="19.4" stroke="#333333" stroke-width="0.9"/>
<text x="493.2" y="22.35" font-size="8.4" fill="#111111" text-anchor="end" class="k">4</text>
<line x1="496.3" y1="36.5" x2="499.3" y2="36.5" stroke="#333333" stroke-width="0.9"/>
<text x="493.2" y="39.45" font-size="8.4" fill="#111111" text-anchor="end" class="k">2</text>
<line x1="496.3" y1="53.6" x2="499.3" y2="53.6" stroke="#333333" stroke-width="0.9"/>
<text x="493.2" y="56.55" font-size="8.4" fill="#111111" text-anchor="end" class="k">0</text>
<line x1="496.3" y1="70.7" x2="499.3" y2="70.7" stroke="#333333" stroke-width="0.9"/>
<text x="493.2" y="73.65" font-size="8.4" fill="#111111" text-anchor="end" class="k">-2</text>
<line x1="496.3" y1="87.8" x2="499.3" y2="87.8" stroke="#333333" stroke-width="0.9"/>
<text x="493.2" y="90.75" font-size="8.4" fill="#111111" text-anchor="end" class="k">-4</text>
<line x1="541.55" y1="100.6" x2="541.55" y2="97.6" stroke="#333333" stroke-width="0.9"/>
<line x1="586.8" y1="100.6" x2="586.8" y2="97.6" stroke="#333333" stroke-width="0.9"/>
<line x1="632.05" y1="100.6" x2="632.05" y2="97.6" stroke="#333333" stroke-width="0.9"/>
<rect x="496.3" y="6.5" width="181" height="94.1" fill="none" stroke="#5c5c5c" stroke-width="1.0"/>
<text transform="translate(481.7 53.55) rotate(-90)" font-size="9.5" fill="#111111" class="k" text-anchor="middle">Pulse (V)</text>
<rect x="496.3" y="152.4" width="7.8" height="37.6" fill="url(#st1)"/>
<rect x="504.1" y="114.8" width="11.1" height="37.6" fill="url(#st1)"/>
<rect x="515.2" y="152.4" width="9.1" height="37.6" fill="url(#st1)"/>
<rect x="524.3" y="114.8" width="12.7" height="37.6" fill="url(#st1)"/>
<rect x="537" y="152.4" width="10.6" height="37.6" fill="url(#st1)"/>
<rect x="547.6" y="114.8" width="14.3" height="37.6" fill="url(#st1)"/>
<rect x="561.9" y="152.4" width="9.6" height="37.6" fill="url(#st1)"/>
<rect x="571.5" y="114.8" width="12.5" height="37.6" fill="url(#st1)"/>
<rect x="584" y="152.4" width="7.1" height="37.6" fill="url(#st1)"/>
<rect x="591.1" y="114.8" width="8.9" height="37.6" fill="url(#st1)"/>
<rect x="600" y="152.4" width="7.6" height="37.6" fill="url(#st1)"/>
<rect x="607.6" y="114.8" width="12.8" height="37.6" fill="url(#st1)"/>
<rect x="620.4" y="152.4" width="10.7" height="37.6" fill="url(#st1)"/>
<rect x="631.1" y="114.8" width="18.2" height="37.6" fill="url(#st1)"/>
<rect x="649.3" y="152.4" width="8.5" height="37.6" fill="url(#st1)"/>
<rect x="657.8" y="114.8" width="15.1" height="37.6" fill="url(#st1)"/>
<rect x="672.9" y="152.4" width="4.1" height="37.6" fill="url(#st1)"/>
<line x1="496.3" y1="152.4" x2="677.3" y2="152.4" stroke="#222" stroke-width="1"/>
<line x1="496.3" y1="114.8" x2="499.3" y2="114.8" stroke="#333333" stroke-width="0.9"/>
<text x="493.2" y="117.75" font-size="8.4" fill="#111111" text-anchor="end" class="k">4</text>
<line x1="496.3" y1="133.6" x2="499.3" y2="133.6" stroke="#333333" stroke-width="0.9"/>
<text x="493.2" y="136.55" font-size="8.4" fill="#111111" text-anchor="end" class="k">2</text>
<line x1="496.3" y1="152.4" x2="499.3" y2="152.4" stroke="#333333" stroke-width="0.9"/>
<text x="493.2" y="155.35" font-size="8.4" fill="#111111" text-anchor="end" class="k">0</text>
<line x1="496.3" y1="171.2" x2="499.3" y2="171.2" stroke="#333333" stroke-width="0.9"/>
<text x="493.2" y="174.15" font-size="8.4" fill="#111111" text-anchor="end" class="k">-2</text>
<line x1="496.3" y1="190" x2="499.3" y2="190" stroke="#333333" stroke-width="0.9"/>
<text x="493.2" y="192.95" font-size="8.4" fill="#111111" text-anchor="end" class="k">-4</text>
<line x1="541.55" y1="199.5" x2="541.55" y2="196.5" stroke="#333333" stroke-width="0.9"/>
<line x1="541.55" y1="105.3" x2="541.55" y2="108.3" stroke="#333333" stroke-width="0.9"/>
<line x1="586.8" y1="199.5" x2="586.8" y2="196.5" stroke="#333333" stroke-width="0.9"/>
<line x1="586.8" y1="105.3" x2="586.8" y2="108.3" stroke="#333333" stroke-width="0.9"/>
<line x1="632.05" y1="199.5" x2="632.05" y2="196.5" stroke="#333333" stroke-width="0.9"/>
<line x1="632.05" y1="105.3" x2="632.05" y2="108.3" stroke="#333333" stroke-width="0.9"/>
<rect x="496.3" y="105.3" width="181" height="94.2" fill="none" stroke="#5c5c5c" stroke-width="1.0"/>
<text transform="translate(481.7 152.4) rotate(-90)" font-size="9.5" fill="#111111" class="k" text-anchor="middle">Pulse (V)</text>
<rect x="496.3" y="213.4" width="2.1" height="37.6" fill="url(#st2)"/>
<rect x="498.4" y="251" width="16.6" height="37.6" fill="url(#st2)"/>
<rect x="515" y="213.4" width="16.6" height="37.6" fill="url(#st2)"/>
<rect x="531.6" y="251" width="18.2" height="37.6" fill="url(#st2)"/>
<rect x="549.8" y="213.4" width="16.2" height="37.6" fill="url(#st2)"/>
<rect x="566" y="251" width="18" height="37.6" fill="url(#st2)"/>
<rect x="584" y="213.4" width="26.9" height="37.6" fill="url(#st2)"/>
<rect x="610.9" y="251" width="16.5" height="37.6" fill="url(#st2)"/>
<rect x="627.4" y="213.4" width="18" height="37.6" fill="url(#st2)"/>
<rect x="645.4" y="251" width="12.6" height="37.6" fill="url(#st2)"/>
<rect x="658" y="213.4" width="12.9" height="37.6" fill="url(#st2)"/>
<rect x="670.9" y="251" width="6.1" height="37.6" fill="url(#st2)"/>
<line x1="496.3" y1="251" x2="677.3" y2="251" stroke="#222" stroke-width="1"/>
<line x1="496.3" y1="213.4" x2="499.3" y2="213.4" stroke="#333333" stroke-width="0.9"/>
<text x="493.2" y="216.35" font-size="8.4" fill="#111111" text-anchor="end" class="k">4</text>
<line x1="496.3" y1="232.2" x2="499.3" y2="232.2" stroke="#333333" stroke-width="0.9"/>
<text x="493.2" y="235.15" font-size="8.4" fill="#111111" text-anchor="end" class="k">2</text>
<line x1="496.3" y1="251" x2="499.3" y2="251" stroke="#333333" stroke-width="0.9"/>
<text x="493.2" y="253.95" font-size="8.4" fill="#111111" text-anchor="end" class="k">0</text>
<line x1="496.3" y1="269.8" x2="499.3" y2="269.8" stroke="#333333" stroke-width="0.9"/>
<text x="493.2" y="272.75" font-size="8.4" fill="#111111" text-anchor="end" class="k">-2</text>
<line x1="496.3" y1="288.6" x2="499.3" y2="288.6" stroke="#333333" stroke-width="0.9"/>
<text x="493.2" y="291.55" font-size="8.4" fill="#111111" text-anchor="end" class="k">-4</text>
<line x1="541.55" y1="298" x2="541.55" y2="295" stroke="#333333" stroke-width="0.9"/>
<line x1="541.55" y1="204.5" x2="541.55" y2="207.5" stroke="#333333" stroke-width="0.9"/>
<line x1="586.8" y1="298" x2="586.8" y2="295" stroke="#333333" stroke-width="0.9"/>
<line x1="586.8" y1="204.5" x2="586.8" y2="207.5" stroke="#333333" stroke-width="0.9"/>
<line x1="632.05" y1="298" x2="632.05" y2="295" stroke="#333333" stroke-width="0.9"/>
<line x1="632.05" y1="204.5" x2="632.05" y2="207.5" stroke="#333333" stroke-width="0.9"/>
<rect x="496.3" y="204.5" width="181" height="93.5" fill="none" stroke="#5c5c5c" stroke-width="1.0"/>
<text transform="translate(481.7 251.25) rotate(-90)" font-size="9.5" fill="#111111" class="k" text-anchor="middle">Pulse (V)</text>
<rect x="496.3" y="311.2" width="24.4" height="37.6" fill="url(#st3)"/>
<rect x="520.7" y="348.8" width="25.4" height="37.6" fill="url(#st3)"/>
<rect x="546.1" y="311.2" width="43.3" height="37.6" fill="url(#st3)"/>
<rect x="589.4" y="348.8" width="18.2" height="37.6" fill="url(#st3)"/>
<rect x="607.6" y="311.2" width="21.5" height="37.6" fill="url(#st3)"/>
<rect x="629.1" y="348.8" width="18.1" height="37.6" fill="url(#st3)"/>
<rect x="647.2" y="311.2" width="25.1" height="37.6" fill="url(#st3)"/>
<rect x="672.3" y="348.8" width="4.7" height="37.6" fill="url(#st3)"/>
<line x1="496.3" y1="348.8" x2="677.3" y2="348.8" stroke="#222" stroke-width="1"/>
<line x1="496.3" y1="311.2" x2="499.3" y2="311.2" stroke="#333333" stroke-width="0.9"/>
<text x="493.2" y="314.15" font-size="8.4" fill="#111111" text-anchor="end" class="k">4</text>
<line x1="496.3" y1="330" x2="499.3" y2="330" stroke="#333333" stroke-width="0.9"/>
<text x="493.2" y="332.95" font-size="8.4" fill="#111111" text-anchor="end" class="k">2</text>
<line x1="496.3" y1="348.8" x2="499.3" y2="348.8" stroke="#333333" stroke-width="0.9"/>
<text x="493.2" y="351.75" font-size="8.4" fill="#111111" text-anchor="end" class="k">0</text>
<line x1="496.3" y1="367.6" x2="499.3" y2="367.6" stroke="#333333" stroke-width="0.9"/>
<text x="493.2" y="370.55" font-size="8.4" fill="#111111" text-anchor="end" class="k">-2</text>
<line x1="496.3" y1="386.4" x2="499.3" y2="386.4" stroke="#333333" stroke-width="0.9"/>
<text x="493.2" y="389.35" font-size="8.4" fill="#111111" text-anchor="end" class="k">-4</text>
<line x1="541.55" y1="396" x2="541.55" y2="393" stroke="#333333" stroke-width="0.9"/>
<line x1="541.55" y1="301.7" x2="541.55" y2="304.7" stroke="#333333" stroke-width="0.9"/>
<line x1="586.8" y1="396" x2="586.8" y2="393" stroke="#333333" stroke-width="0.9"/>
<line x1="586.8" y1="301.7" x2="586.8" y2="304.7" stroke="#333333" stroke-width="0.9"/>
<line x1="632.05" y1="396" x2="632.05" y2="393" stroke="#333333" stroke-width="0.9"/>
<line x1="632.05" y1="301.7" x2="632.05" y2="304.7" stroke="#333333" stroke-width="0.9"/>
<rect x="496.3" y="301.7" width="181" height="94.3" fill="none" stroke="#5c5c5c" stroke-width="1.0"/>
<text transform="translate(481.7 348.85) rotate(-90)" font-size="9.5" fill="#111111" class="k" text-anchor="middle">Pulse (V)</text>
<text x="496.3" y="406.2" font-size="8.4" fill="#111111" text-anchor="middle" class="k">0</text>
<text x="541.55" y="406.2" font-size="8.4" fill="#111111" text-anchor="middle" class="k">25</text>
<text x="586.8" y="406.2" font-size="8.4" fill="#111111" text-anchor="middle" class="k">50</text>
<text x="632.05" y="406.2" font-size="8.4" fill="#111111" text-anchor="middle" class="k">75</text>
<text x="677.3" y="406.2" font-size="8.4" fill="#111111" text-anchor="middle" class="k">100</text>
<text x="586.8" y="416.2" font-size="9.4" fill="#111111" text-anchor="middle" class="k">Burst Numbers (i)</text>
<rect x="37.4" y="324.3" width="184.3" height="15.3" fill="#dcf3dc"/>
<text x="129.2" y="334.5" font-size="9.3" fill="#111111" text-anchor="middle" class="k">Operation Range</text>
<line x1="37.4" y1="258.6" x2="40.4" y2="258.6" stroke="#333333" stroke-width="0.9"/>
<text x="34.2" y="261.55" font-size="8.4" fill="#111111" text-anchor="end" class="k">2</text>
<line x1="37.4" y1="288.35" x2="40.4" y2="288.35" stroke="#333333" stroke-width="0.9"/>
<text x="34.2" y="291.3" font-size="8.4" fill="#111111" text-anchor="end" class="k">1</text>
<line x1="37.4" y1="318.1" x2="40.4" y2="318.1" stroke="#333333" stroke-width="0.9"/>
<text x="34.2" y="321.05" font-size="8.4" fill="#111111" text-anchor="end" class="k">0</text>
<line x1="37.4" y1="347.85" x2="40.4" y2="347.85" stroke="#333333" stroke-width="0.9"/>
<text x="34.2" y="350.8" font-size="8.4" fill="#111111" text-anchor="end" class="k">-1</text>
<line x1="37.4" y1="377.6" x2="40.4" y2="377.6" stroke="#333333" stroke-width="0.9"/>
<text x="34.2" y="380.55" font-size="8.4" fill="#111111" text-anchor="end" class="k">-2</text>
<line x1="55.7" y1="392.2" x2="55.7" y2="389.2" stroke="#333333" stroke-width="0.9"/>
<text x="55.7" y="402" font-size="8.4" fill="#111111" text-anchor="middle" class="k">-1000</text>
<line x1="92.4" y1="392.2" x2="92.4" y2="389.2" stroke="#333333" stroke-width="0.9"/>
<text x="92.4" y="402" font-size="8.4" fill="#111111" text-anchor="middle" class="k">-500</text>
<line x1="129.1" y1="392.2" x2="129.1" y2="389.2" stroke="#333333" stroke-width="0.9"/>
<text x="129.1" y="402" font-size="8.4" fill="#111111" text-anchor="middle" class="k">0</text>
<line x1="165.8" y1="392.2" x2="165.8" y2="389.2" stroke="#333333" stroke-width="0.9"/>
<text x="165.8" y="402" font-size="8.4" fill="#111111" text-anchor="middle" class="k">500</text>
<line x1="202.5" y1="392.2" x2="202.5" y2="389.2" stroke="#333333" stroke-width="0.9"/>
<text x="202.5" y="402" font-size="8.4" fill="#111111" text-anchor="middle" class="k">1000</text>
<g fill="none" stroke="#7f87cc" stroke-width="0.9">
<line x1="81.69" y1="255.63" x2="81.39" y2="380.58"/>
<line x1="178.79" y1="255.63" x2="178.06" y2="380.58"/>
</g>
<g fill="none" stroke="#626ab8" stroke-linecap="round">
<polyline stroke-width="3.9" points="55.7,379.83 56.46,379.87 57.21,379.9 57.97,379.93 58.73,379.94 59.48,379.95 60.24,379.95 61,379.93 61.76,379.91 62.51,379.88 63.27,379.85 64.03,379.81 64.78,379.78 65.54,379.75 66.3,379.73 67.05,379.71 67.81,379.71 68.57,379.72 69.32,379.74 70.08,379.77 70.84,379.8 71.6,379.83 72.35,379.87 73.11,379.9 73.87,379.93 74.62,379.94 75.38,379.95 76.14,379.95 76.89,379.93 77.65,379.91 78.41,379.88 79.17,379.85 79.92,379.81 80.68,379.78 81.44,379.75 82.19,379.73 82.95,379.71 83.71,379.71 84.46,379.72 85.22,379.74 85.98,379.77 86.73,379.8 87.49,379.84 88.25,379.87 89.01,379.9 89.76,379.93 90.52,379.94 91.28,379.95 92.03,379.95 92.79,379.93 93.55,379.91 94.3,379.88 95.06,379.84 95.82,379.81 96.57,379.77 97.33,379.75 98.09,379.72 98.85,379.71 99.6,379.71 100.36,379.72 101.12,379.74 101.87,379.77 102.63,379.8 103.39,379.84 104.14,379.87 104.9,379.9 105.66,379.93 106.41,379.95 107.17,380.2 107.93,380.2 108.69,380.18 109.44,380.16 110.2,380.13 110.96,380.09 111.71,380.06 112.47,380.02 113.23,379.99 113.98,379.97 114.74,379.96 115.5,379.96 116.25,379.97 117.01,379.99 117.77,380.02 118.53,380.05 119.28,380.09 120.04,380.12 120.8,380.16 121.55,380.18 122.31,380.2 123.07,380.2 123.82,380.2 124.58,380.18 125.34,380.16 126.1,380.13 126.85,380.09 127.61,380.05 128.37,380.02 129.12,379.99 129.88,379.97 130.64,379.96 131.39,379.96 132.15,379.97 132.91,379.99 133.66,380.02 134.42,380.06 135.18,380.09 135.94,380.13 136.69,380.16 137.45,380.18 138.21,380.2 138.96,380.2 139.72,380.2 140.48,380.18 141.23,380.15 141.99,380.12 142.75,380.09 143.5,380.05 144.26,379.77 145.02,379.74 145.78,379.72 146.53,379.71 147.29,379.71 148.05,379.72 148.8,379.75 149.56,379.77 150.32,379.81 151.07,379.84 151.83,379.88 152.59,379.91 153.34,379.93 154.1,379.95 154.86,379.95 155.62,379.94 156.37,379.93 157.13,379.9 157.89,379.87 158.64,379.84 159.4,379.8 160.16,379.77 160.91,379.74 161.67,379.72 162.43,379.71 163.19,379.71 163.94,379.73 164.7,379.75 165.46,379.78 166.21,379.81 166.97,379.85 167.73,379.88 168.48,379.91 169.24,379.93 170,379.95 170.75,379.95 171.51,379.94 172.27,379.93 173.03,379.9 173.78,379.87 174.54,379.83 175.3,379.8 176.05,379.77 176.81,379.74"/>
<polyline stroke-width="3.9" points="202.5,255.92 201.74,255.95 200.99,255.98 200.23,256.01 199.47,256.03 198.72,256.04 197.96,256.04 197.2,256.04 196.44,256.02 195.69,256 194.93,255.97 194.17,255.94 193.42,255.91 192.66,255.88 191.9,255.85 191.15,255.83 190.39,255.81 189.63,255.8 188.88,255.8 188.12,255.81 187.36,255.83 186.6,255.85 185.85,255.88 185.09,255.91 184.33,255.95 183.58,255.98 182.82,256 182.06,256.02 181.31,256.04 180.55,256.04 179.79,256.04 179.03,256.03 178.28,256.01 177.52,255.98 176.76,255.95 176.01,255.92 175.25,255.89 174.49,255.86 173.74,255.83 172.98,255.82 172.22,255.8 171.47,255.8 170.71,255.81 169.95,255.82 169.19,255.85 168.44,255.87 167.68,255.9 166.92,255.94 166.17,255.97 165.41,256 164.65,256.02 163.9,256.03 163.14,256.04 162.38,256.04 161.63,256.03 160.87,256.01 160.11,255.99 159.35,255.96 158.6,255.93 157.84,255.9 157.08,255.87 156.33,255.84 155.57,255.82 154.81,255.81 154.06,256.3 153.3,256.31 152.54,256.32 151.79,256.34 151.03,256.37 150.27,256.4 149.51,256.43 148.76,256.46 148,256.49 147.24,256.51 146.49,256.53 145.73,256.54 144.97,256.54 144.22,256.53 143.46,256.52 142.7,256.5 141.94,256.47 141.19,256.44 140.43,256.4 139.67,256.37 138.92,256.35 138.16,256.32 137.4,256.31 136.65,256.3 135.89,256.3 135.13,256.32 134.38,256.33 133.62,256.36 132.86,256.39 132.1,256.42 131.35,256.45 130.59,256.48 129.83,256.51 129.08,256.53 128.32,256.54 127.56,256.54 126.81,256.54 126.05,256.52 125.29,256.5 124.54,256.48 123.78,256.45 123.02,256.41 122.26,256.38 121.51,256.35 120.75,256.33 119.99,256.31 119.24,256.3 118.48,256.3 117.72,255.81 116.97,255.83 116.21,255.85 115.45,255.88 114.7,255.91 113.94,255.94 113.18,255.97 112.42,256 111.67,256.02 110.91,256.04 110.15,256.04 109.4,256.04 108.64,256.03 107.88,256.01 107.13,255.98 106.37,255.95 105.61,255.92 104.86,255.89 104.1,255.86 103.34,255.84 102.58,255.82 101.83,255.81 101.07,255.8 100.31,255.81 99.56,255.82 98.8,255.84 98.04,255.87 97.29,255.9 96.53,255.93 95.77,255.97 95.01,255.99 94.26,256.02 93.5,256.03 92.74,256.04 91.99,256.04 91.23,256.03 90.47,256.02 89.72,255.99 88.96,255.96 88.2,255.93 87.45,255.9 86.69,255.87 85.93,255.84 85.17,255.82 84.42,255.81 83.66,255.8 82.9,255.81 82.15,255.82 81.39,255.84"/>
</g>
<g fill="#9ca1d6" opacity="0.55">
<circle cx="55.7" cy="379.43" r="0.9"/>
<circle cx="57.21" cy="379.5" r="0.9"/>
<circle cx="58.73" cy="379.54" r="0.9"/>
<circle cx="60.24" cy="379.55" r="0.9"/>
<circle cx="61.76" cy="379.51" r="0.9"/>
<circle cx="63.27" cy="379.45" r="0.9"/>
<circle cx="64.78" cy="379.38" r="0.9"/>
<circle cx="66.3" cy="379.33" r="0.9"/>
<circle cx="67.81" cy="379.31" r="0.9"/>
<circle cx="69.32" cy="379.34" r="0.9"/>
<circle cx="70.84" cy="379.4" r="0.9"/>
<circle cx="72.35" cy="379.47" r="0.9"/>
<circle cx="73.87" cy="379.53" r="0.9"/>
<circle cx="75.38" cy="379.55" r="0.9"/>
<circle cx="76.89" cy="379.53" r="0.9"/>
<circle cx="78.41" cy="379.48" r="0.9"/>
<circle cx="79.92" cy="379.41" r="0.9"/>
<circle cx="81.44" cy="379.35" r="0.9"/>
<circle cx="82.95" cy="379.31" r="0.9"/>
<circle cx="84.46" cy="379.32" r="0.9"/>
<circle cx="85.98" cy="379.37" r="0.9"/>
<circle cx="87.49" cy="379.44" r="0.9"/>
<circle cx="89.01" cy="379.5" r="0.9"/>
<circle cx="90.52" cy="379.54" r="0.9"/>
<circle cx="92.03" cy="379.55" r="0.9"/>
<circle cx="93.55" cy="379.51" r="0.9"/>
<circle cx="95.06" cy="379.44" r="0.9"/>
<circle cx="96.57" cy="379.37" r="0.9"/>
<circle cx="98.09" cy="379.32" r="0.9"/>
<circle cx="99.6" cy="379.31" r="0.9"/>
<circle cx="101.12" cy="379.34" r="0.9"/>
<circle cx="102.63" cy="379.4" r="0.9"/>
<circle cx="104.14" cy="379.47" r="0.9"/>
<circle cx="105.66" cy="379.53" r="0.9"/>
<circle cx="107.17" cy="379.8" r="0.9"/>
<circle cx="108.69" cy="379.78" r="0.9"/>
<circle cx="110.2" cy="379.73" r="0.9"/>
<circle cx="111.71" cy="379.66" r="0.9"/>
<circle cx="113.23" cy="379.59" r="0.9"/>
<circle cx="114.74" cy="379.56" r="0.9"/>
<circle cx="116.25" cy="379.57" r="0.9"/>
<circle cx="117.77" cy="379.62" r="0.9"/>
<circle cx="119.28" cy="379.69" r="0.9"/>
<circle cx="120.8" cy="379.76" r="0.9"/>
<circle cx="122.31" cy="379.8" r="0.9"/>
<circle cx="123.82" cy="379.8" r="0.9"/>
<circle cx="125.34" cy="379.76" r="0.9"/>
<circle cx="126.85" cy="379.69" r="0.9"/>
<circle cx="128.37" cy="379.62" r="0.9"/>
<circle cx="129.88" cy="379.57" r="0.9"/>
<circle cx="131.39" cy="379.56" r="0.9"/>
<circle cx="132.91" cy="379.59" r="0.9"/>
<circle cx="134.42" cy="379.66" r="0.9"/>
<circle cx="135.94" cy="379.73" r="0.9"/>
<circle cx="137.45" cy="379.78" r="0.9"/>
<circle cx="138.96" cy="379.8" r="0.9"/>
<circle cx="140.48" cy="379.78" r="0.9"/>
<circle cx="141.99" cy="379.72" r="0.9"/>
<circle cx="143.5" cy="379.65" r="0.9"/>
<circle cx="145.02" cy="379.34" r="0.9"/>
<circle cx="146.53" cy="379.31" r="0.9"/>
<circle cx="148.05" cy="379.32" r="0.9"/>
<circle cx="149.56" cy="379.37" r="0.9"/>
<circle cx="151.07" cy="379.44" r="0.9"/>
<circle cx="152.59" cy="379.51" r="0.9"/>
<circle cx="154.1" cy="379.55" r="0.9"/>
<circle cx="155.62" cy="379.54" r="0.9"/>
<circle cx="157.13" cy="379.5" r="0.9"/>
<circle cx="158.64" cy="379.44" r="0.9"/>
<circle cx="160.16" cy="379.37" r="0.9"/>
<circle cx="161.67" cy="379.32" r="0.9"/>
<circle cx="163.19" cy="379.31" r="0.9"/>
<circle cx="164.7" cy="379.35" r="0.9"/>
<circle cx="166.21" cy="379.41" r="0.9"/>
<circle cx="167.73" cy="379.48" r="0.9"/>
<circle cx="169.24" cy="379.53" r="0.9"/>
<circle cx="170.75" cy="379.55" r="0.9"/>
<circle cx="172.27" cy="379.53" r="0.9"/>
<circle cx="173.78" cy="379.47" r="0.9"/>
<circle cx="175.3" cy="379.4" r="0.9"/>
<circle cx="176.81" cy="379.34" r="0.9"/>
<circle cx="202.5" cy="255.52" r="0.9"/>
<circle cx="200.99" cy="255.58" r="0.9"/>
<circle cx="199.47" cy="255.63" r="0.9"/>
<circle cx="197.96" cy="255.64" r="0.9"/>
<circle cx="196.44" cy="255.62" r="0.9"/>
<circle cx="194.93" cy="255.57" r="0.9"/>
<circle cx="193.42" cy="255.51" r="0.9"/>
<circle cx="191.9" cy="255.45" r="0.9"/>
<circle cx="190.39" cy="255.41" r="0.9"/>
<circle cx="188.88" cy="255.4" r="0.9"/>
<circle cx="187.36" cy="255.43" r="0.9"/>
<circle cx="185.85" cy="255.48" r="0.9"/>
<circle cx="184.33" cy="255.55" r="0.9"/>
<circle cx="182.82" cy="255.6" r="0.9"/>
<circle cx="181.31" cy="255.64" r="0.9"/>
<circle cx="179.79" cy="255.64" r="0.9"/>
<circle cx="178.28" cy="255.61" r="0.9"/>
<circle cx="176.76" cy="255.55" r="0.9"/>
<circle cx="175.25" cy="255.49" r="0.9"/>
<circle cx="173.74" cy="255.43" r="0.9"/>
<circle cx="172.22" cy="255.4" r="0.9"/>
<circle cx="170.71" cy="255.41" r="0.9"/>
<circle cx="169.19" cy="255.45" r="0.9"/>
<circle cx="167.68" cy="255.5" r="0.9"/>
<circle cx="166.17" cy="255.57" r="0.9"/>
<circle cx="164.65" cy="255.62" r="0.9"/>
<circle cx="163.14" cy="255.64" r="0.9"/>
<circle cx="161.63" cy="255.63" r="0.9"/>
<circle cx="160.11" cy="255.59" r="0.9"/>
<circle cx="158.6" cy="255.53" r="0.9"/>
<circle cx="157.08" cy="255.47" r="0.9"/>
<circle cx="155.57" cy="255.42" r="0.9"/>
<circle cx="154.06" cy="255.9" r="0.9"/>
<circle cx="152.54" cy="255.92" r="0.9"/>
<circle cx="151.03" cy="255.97" r="0.9"/>
<circle cx="149.51" cy="256.03" r="0.9"/>
<circle cx="148" cy="256.09" r="0.9"/>
<circle cx="146.49" cy="256.13" r="0.9"/>
<circle cx="144.97" cy="256.14" r="0.9"/>
<circle cx="143.46" cy="256.12" r="0.9"/>
<circle cx="141.94" cy="256.07" r="0.9"/>
<circle cx="140.43" cy="256" r="0.9"/>
<circle cx="138.92" cy="255.95" r="0.9"/>
<circle cx="137.4" cy="255.91" r="0.9"/>
<circle cx="135.89" cy="255.9" r="0.9"/>
<circle cx="134.38" cy="255.93" r="0.9"/>
<circle cx="132.86" cy="255.99" r="0.9"/>
<circle cx="131.35" cy="256.05" r="0.9"/>
<circle cx="129.83" cy="256.11" r="0.9"/>
<circle cx="128.32" cy="256.14" r="0.9"/>
<circle cx="126.81" cy="256.14" r="0.9"/>
<circle cx="125.29" cy="256.1" r="0.9"/>
<circle cx="123.78" cy="256.05" r="0.9"/>
<circle cx="122.26" cy="255.98" r="0.9"/>
<circle cx="120.75" cy="255.93" r="0.9"/>
<circle cx="119.24" cy="255.9" r="0.9"/>
<circle cx="117.72" cy="255.41" r="0.9"/>
<circle cx="116.21" cy="255.45" r="0.9"/>
<circle cx="114.7" cy="255.51" r="0.9"/>
<circle cx="113.18" cy="255.57" r="0.9"/>
<circle cx="111.67" cy="255.62" r="0.9"/>
<circle cx="110.15" cy="255.64" r="0.9"/>
<circle cx="108.64" cy="255.63" r="0.9"/>
<circle cx="107.13" cy="255.58" r="0.9"/>
<circle cx="105.61" cy="255.52" r="0.9"/>
<circle cx="104.1" cy="255.46" r="0.9"/>
<circle cx="102.58" cy="255.42" r="0.9"/>
<circle cx="101.07" cy="255.4" r="0.9"/>
<circle cx="99.56" cy="255.42" r="0.9"/>
<circle cx="98.04" cy="255.47" r="0.9"/>
<circle cx="96.53" cy="255.53" r="0.9"/>
<circle cx="95.01" cy="255.59" r="0.9"/>
<circle cx="93.5" cy="255.63" r="0.9"/>
<circle cx="91.99" cy="255.64" r="0.9"/>
<circle cx="90.47" cy="255.62" r="0.9"/>
<circle cx="88.96" cy="255.56" r="0.9"/>
<circle cx="87.45" cy="255.5" r="0.9"/>
<circle cx="85.93" cy="255.44" r="0.9"/>
<circle cx="84.42" cy="255.41" r="0.9"/>
<circle cx="82.9" cy="255.41" r="0.9"/>
<circle cx="81.39" cy="255.44" r="0.9"/>
</g>
<circle cx="178.42" cy="302.6" r="1.5" fill="#fff" stroke="#626ab8" stroke-width="0.8"/>
<circle cx="202.5" cy="256.22" r="2.3" fill="#626ab8"/>
<circle cx="55.7" cy="379.83" r="2.3" fill="#626ab8"/>
<rect x="37.4" y="244" width="184.3" height="148.2" fill="none" stroke="#5c5c5c" stroke-width="1.0"/>
<text transform="translate(21.0 317.7) rotate(-90)" font-size="9.8" fill="#111111" class="k" text-anchor="middle"><tspan font-style="italic">R</tspan><tspan font-size="6.5" dy="2.5">XY</tspan><tspan dy="-2.5"> (Ω)</tspan></text>
<text x="130.2" y="415.7" font-size="9.4" fill="#111111" class="k" text-anchor="middle"><tspan font-style="italic">H</tspan><tspan font-size="5.9" dy="2.7" font-style="italic">Z</tspan><tspan dy="-2.7"> (Oe)</tspan></text>
<g fill="none" stroke="#111" stroke-width="1.35" stroke-linejoin="miter">
<path d="M15,43.5 H21.4 V31.6 H27.1 V43.5 H33"/>
<path d="M25.4,46.7 H45"/>
<path d="M45,38.2 V55.5 M49.2,38.2 V55.5"/>
<path d="M49.2,46.7 H77"/>
<path d="M61.1,46.7 V55.4 C66,54.6 70.6,55.6 70.6,58.2 C70.6,60.6 66,61.4 61.4,61 C66,60.6 70.6,61.3 70.6,63.8 C70.6,66.2 66,67 61.4,66.6 C66,66.2 70.8,67 70.8,69.2 C70.8,71.4 66,72 61.1,71.5 V79.6"/>
<circle cx="61.3" cy="89" r="9.1"/>
<path d="M61.3,98.1 V102.4"/>
<path d="M53.4,102.4 H69.2 L61.3,113.4 Z"/>
<path d="M122.8,15.3 V1.6 H217.4 V34.6 M217.4,53.2 V86.4 H122.8 V72.7"/>
<circle cx="217.5" cy="43.6" r="9.05"/>
<path d="M178.2,43.8 H193.1 V62"/>
<path d="M185.3,62 H201 L193.1,73 Z"/>
</g>
<text x="58.9" y="92.5" font-size="10" font-style="italic" fill="#000">I</text>
<text x="210.8" y="46.3" font-size="8.8" font-style="italic" font-weight="bold" fill="#000">R</text>
<text x="217.1" y="48.6" font-size="6" font-weight="bold" fill="#000">XY</text>
<g>
<rect x="76.6" y="15.3" width="101.6" height="57.4" fill="#878787"/>
<rect x="76.6" y="15.3" width="101.6" height="57.4" fill="#888" filter="url(#noise)" opacity="0.18"/>
<path d="M76.6,26.4 H107.4 L120.7,33.5 V53 L113,56 L94.9,72.7 H76.6 Z" fill="#b1bb4a"/>
<path d="M178.2,34.1 H145.3 L143.9,35.5 V54.3 L170.2,72.7 H178.2 Z" fill="#b1bb4a"/>
<path d="M121.1,15.3 H127.9 L127.7,39.2 H124.6 Z M124.8,49 H127.7 L127.9,72.7 H121.1 Z" fill="#b1bb4a"/>
<path d="M134.2,15.3 H147 L140,39.2 H135.6 Z M135.6,49 H140 L140.9,72.7 H134.8 Z" fill="#b1bb4a"/>
<rect x="127.3" y="39.2" width="16.4" height="9.8" fill="#b472c8"/>
<rect x="120.2" y="39.2" width="7.4" height="9.8" fill="#5a2878"/>
<path d="M127.4,24.5 V35" stroke="#7030a8" stroke-width="1.2"/>
<path d="M125.2,33.6 L127.4,38.2 L129.6,33.6 Z" fill="#7030a8"/>
<path d="M127.4,63.8 V54" stroke="#7030a8" stroke-width="1.2"/>
<path d="M125.2,55.4 L127.4,50.8 L129.6,55.4 Z" fill="#7030a8"/>
<text x="155.8" y="55.9" font-size="8.2" font-weight="bold" fill="#fff">5 μm</text>
<rect x="161.2" y="59.3" width="9.6" height="1.4" fill="#fff"/>
</g>
<path d="M52,178.1 L129.9,156.9 L148.3,177.1 L143.5,187.1 L66.6,211.7 Z" fill="#9090fc"/>
<path d="M66.6,211.7 L143.5,187.1 L150,185 L150,200.5 L69.7,227.9 Z" fill="#4442c2"/>
<path d="M52,178.1 L66.6,211.7 L69.7,227.9 L55,196 Z" fill="#7c7cf0"/>
<path d="M143.5,187.1 L149,185 L152,206 L150.4,208.2 Z" fill="#6060f0"/>
<path d="M104,186.6 L140.5,174.6 L142,175.6 L106,187.8 Z" fill="#7c7cf6" opacity="0.8"/>
<path d="M129.9,156.9 L192.1,139.3 L221.6,160.4 L150,184.5 L148.3,177.1 Z" fill="#f2646a"/>
<path d="M150,184.5 L221.6,160.4 L219.2,174.2 L150,197.2 Z" fill="#d43434"/>
<path d="M108.3,213 V203" stroke="#000" stroke-width="1.2"/>
<path d="M106.3,204 L108.3,199.8 L110.3,204 Z" fill="#000"/>
<path d="M192.9,172.4 V179" stroke="#000" stroke-width="1.2"/>
<path d="M190.9,178 L192.9,181.6 L194.9,178 Z" fill="#000"/>
<path d="M126,163.8 L146,156.8" stroke="#3a3a3a" stroke-width="1.5"/>
<path d="M118.5,166.4 L127.1,160.7 L128.7,165.5 Z M150.6,155.2 L143.5,155 L145.1,159.8 Z" fill="#3a3a3a"/>
<path d="M116.2,153.5 L119.5,152.5 L120.2,159.6 L116.8,160 Z" fill="#6060f0"/>
<path d="M107,149.6 L112.4,147.6 L115.4,150.6 L116.4,155 L117,160.6 L111.2,161.6 L108.4,158.4 Z" fill="#dedc46"/>
<path d="M107,149.6 L112.4,147.6 L115.2,150.2 L109.8,152.2 Z" fill="#ecfa62"/>
<path d="M114.8,146.4 L120.2,152.8 L120.2,159.2 L117.6,158.2 L116.2,153 Z" fill="#dcd840"/>
<path d="M114.8,146.4 L132.7,142.1 L138.7,147.8 L120.2,152.8 Z" fill="#ecfa62"/>
<path d="M120.2,152.8 L138.7,147.8 L138.7,153.9 L120.2,159.2 Z" fill="#d8d03a"/>
<path d="M143.6,179.7 L162.5,173.5 L171,179.7 L151.6,187.4 Z" fill="#ecfa62"/>
<path d="M143.6,179.7 L151.6,187.4 L155.5,207.5 L164,218.3 L164.8,225.3 L157,219.5 L152.5,209 L149.5,198 L145.5,188.5 Z" fill="#dcd840"/>
<path d="M151.6,187.4 L171,179.7 L176,200 L176.4,202.9 L155.5,207.5 Z" fill="#e0dc42"/>
<path d="M155.5,207.5 L176.4,202.9 L185.6,210.6 L164,218.3 Z" fill="#ecfa62"/>
<path d="M164,218.3 L185.6,210.6 L185.6,216.5 L164.8,225.3 Z" fill="#d4cc34"/>
<g fill="none" stroke="#000" stroke-width="1.2">
<path d="M112.1,148 V105.3 L142.6,132.6"/>
<circle cx="149.9" cy="139.1" r="8.5" fill="#fff"/>
<path d="M156.2,143.8 L182.2,164.6 V224.5 L175.6,218.3"/>
</g>
<text x="143.6" y="140.6" font-size="7.4" font-style="italic" font-weight="bold" fill="#000">R</text>
<text x="148.9" y="142.2" font-size="4.8" font-weight="bold" fill="#000">XY</text>
<path d="M39.7,208 H44.6 V196.8 H49.5 V205.2 H55.3" fill="none" stroke="#000" stroke-width="1.2"/>
</svg></body></html>
